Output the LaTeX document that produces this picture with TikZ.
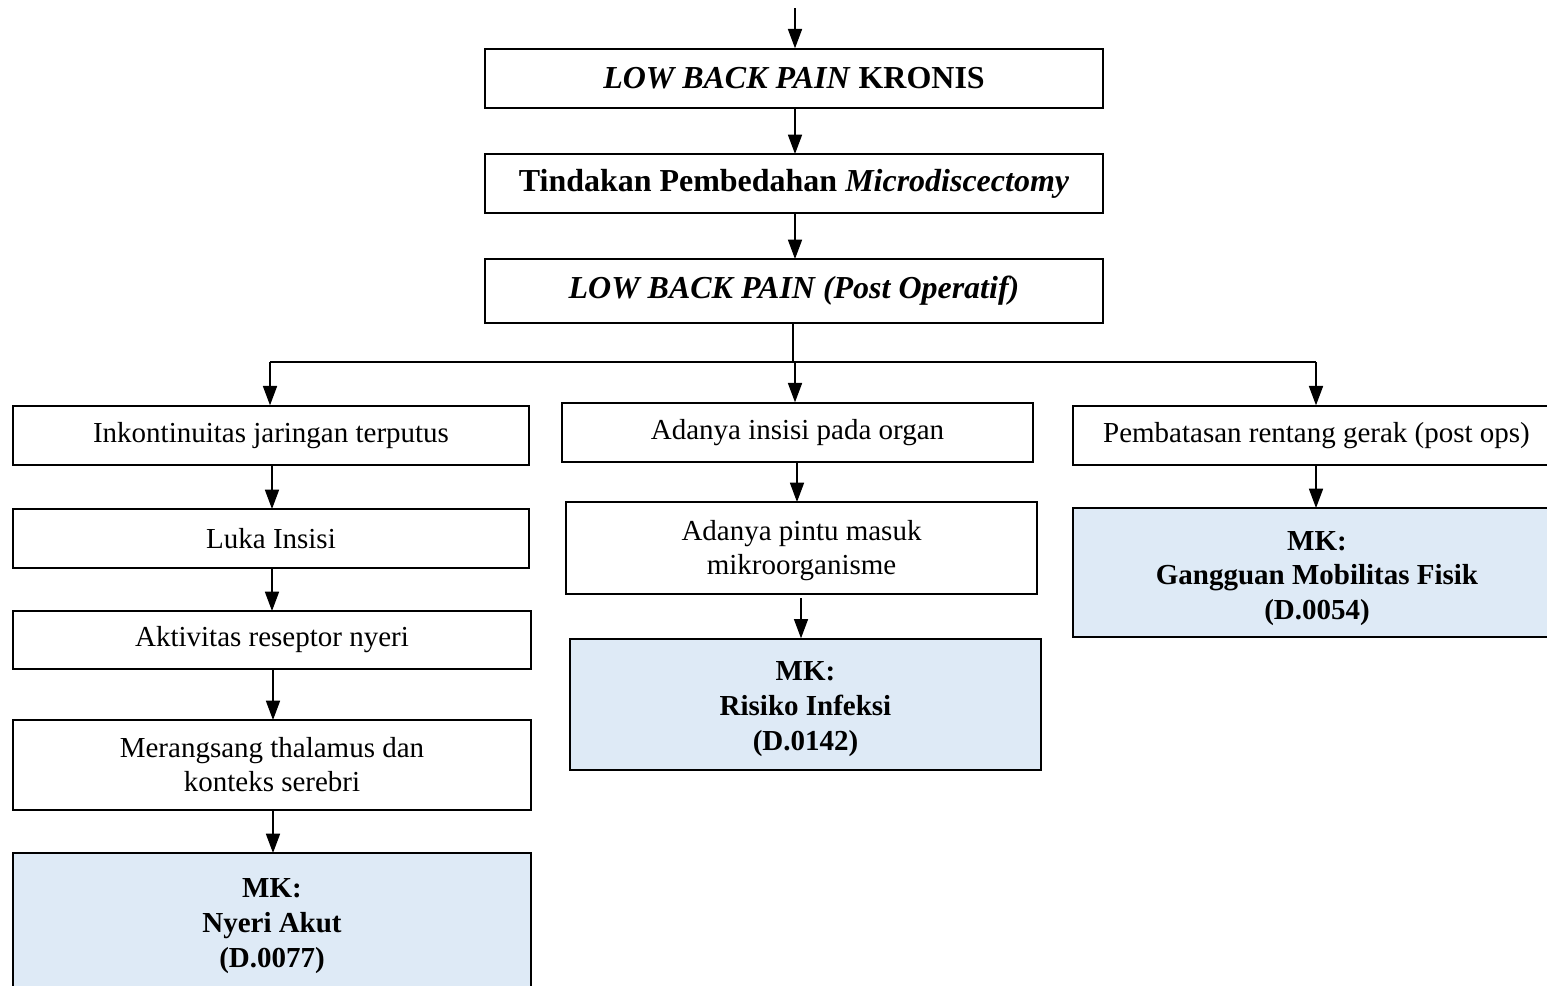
\documentclass[tikz,border=0pt]{standalone}
\usepackage{fontspec}
\setmainfont{Liberation Serif}
\usetikzlibrary{arrows.meta}
\definecolor{mkblue}{HTML}{DEEAF6}
\begin{document}
\begin{tikzpicture}[x=0.02cm,y=-0.02cm,
  every node/.style={font=\fontsize{16.5}{19.3}\selectfont},
  box/.style={draw=black,line width=0.8pt,rectangle,inner sep=0pt,align=center},
  titlebox/.style={box,font=\fontsize{18.2}{21}\selectfont\bfseries},
  mkbox/.style={box,fill=mkblue},
  mktext/.style={inner sep=0pt,align=center,font=\fontsize{16.5}{19.7}\selectfont\bfseries},
  conn/.style={line width=0.8pt,-{Triangle[width=8pt,length=11pt]}},
  plain/.style={line width=0.8pt}]
\useasboundingbox (0,0) rectangle (1547,985);
% top chain
\node[titlebox,minimum width=12.36cm,minimum height=1.18cm] (b1) at (794,78.5) {\textit{LOW BACK PAIN} KRONIS};
\node[titlebox,minimum width=12.36cm,minimum height=1.18cm] (b2) at (794,183.5) {Tindakan Pembedahan \textit{Microdiscectomy}};
\node[titlebox,minimum width=12.36cm,minimum height=1.28cm] (b3) at (794,291) {\textit{LOW BACK PAIN (Post Operatif)}};
% left column
\node[box,minimum width=10.32cm,minimum height=1.18cm] (l1) at (271,435.5) {Inkontinuitas jaringan terputus};
\node[box,minimum width=10.32cm,minimum height=1.18cm] (l2) at (271,538.5) {Luka Insisi};
\node[box,minimum width=10.36cm,minimum height=1.16cm] (l3) at (272,640) {Aktivitas reseptor nyeri};
\node[box,minimum width=10.36cm,minimum height=1.8cm] (l4) at (272,765) {Merangsang thalamus dan\\konteks serebri};
\node[mkbox,minimum width=10.36cm,minimum height=2.74cm] (l5) at (272,921.5) {};
\node[mktext] (l5t) at (272,926) {MK:\\Nyeri Akut\\(D.0077)};
% middle column
\node[box,minimum width=9.42cm,minimum height=1.84cm] (m2) at (801.5,548) {};
\node[box,minimum width=9.42cm,minimum height=1.18cm] (m1) at (797.5,432.5) {Adanya insisi pada organ};
\node[inner sep=0pt,align=center] (m2t) at (801.5,550.5) {Adanya pintu masuk\\mikroorganisme};
\node[mkbox,minimum width=9.42cm,minimum height=2.62cm] (m3) at (805.5,704.5) {};
\node[mktext] (m3t) at (805.5,709) {MK:\\Risiko Infeksi\\(D.0142)};
% right column
\node[box,minimum width=9.74cm,minimum height=1.18cm] (r1) at (1316.5,435.5) {Pembatasan rentang gerak (post ops)};
\node[mkbox,minimum width=9.74cm,minimum height=2.58cm] (r2) at (1316.5,572.5) {};
\node[mktext] (r2t) at (1317,578.5) {MK:\\Gangguan Mobilitas Fisik\\(D.0054)};
% connectors
\coordinate (top) at (795,8);
\coordinate (split) at (793,362);
\coordinate (sl) at (270,362);
\coordinate (sm) at (795,362);
\coordinate (sr) at (1316,362);
\coordinate (m2gap) at (801,598);
\draw[conn] (top) -- (top |- b1.north);
\draw[conn] (795,108) -- (795,154);
\draw[conn] (795,213) -- (795,259);
\draw[plain] (split |- b3.south) -- (split);
\draw[plain] (sl) -- (sr);
\draw[conn] (sl) -- (sl |- l1.north);
\draw[conn] (sm) -- (sm |- m1.north);
\draw[conn] (sr) -- (sr |- r1.north);
\draw[conn] (272,465) -- (272,509);
\draw[conn] (272,568) -- (272,611);
\draw[conn] (273,669) -- (273,720);
\draw[conn] (273,810) -- (273,853);
\draw[conn] (797,462) -- (797,502);
\draw[conn] (m2gap) -- (m2gap |- m3.north);
\draw[conn] (1316,465) -- (1316,508);
\end{tikzpicture}
\end{document}
